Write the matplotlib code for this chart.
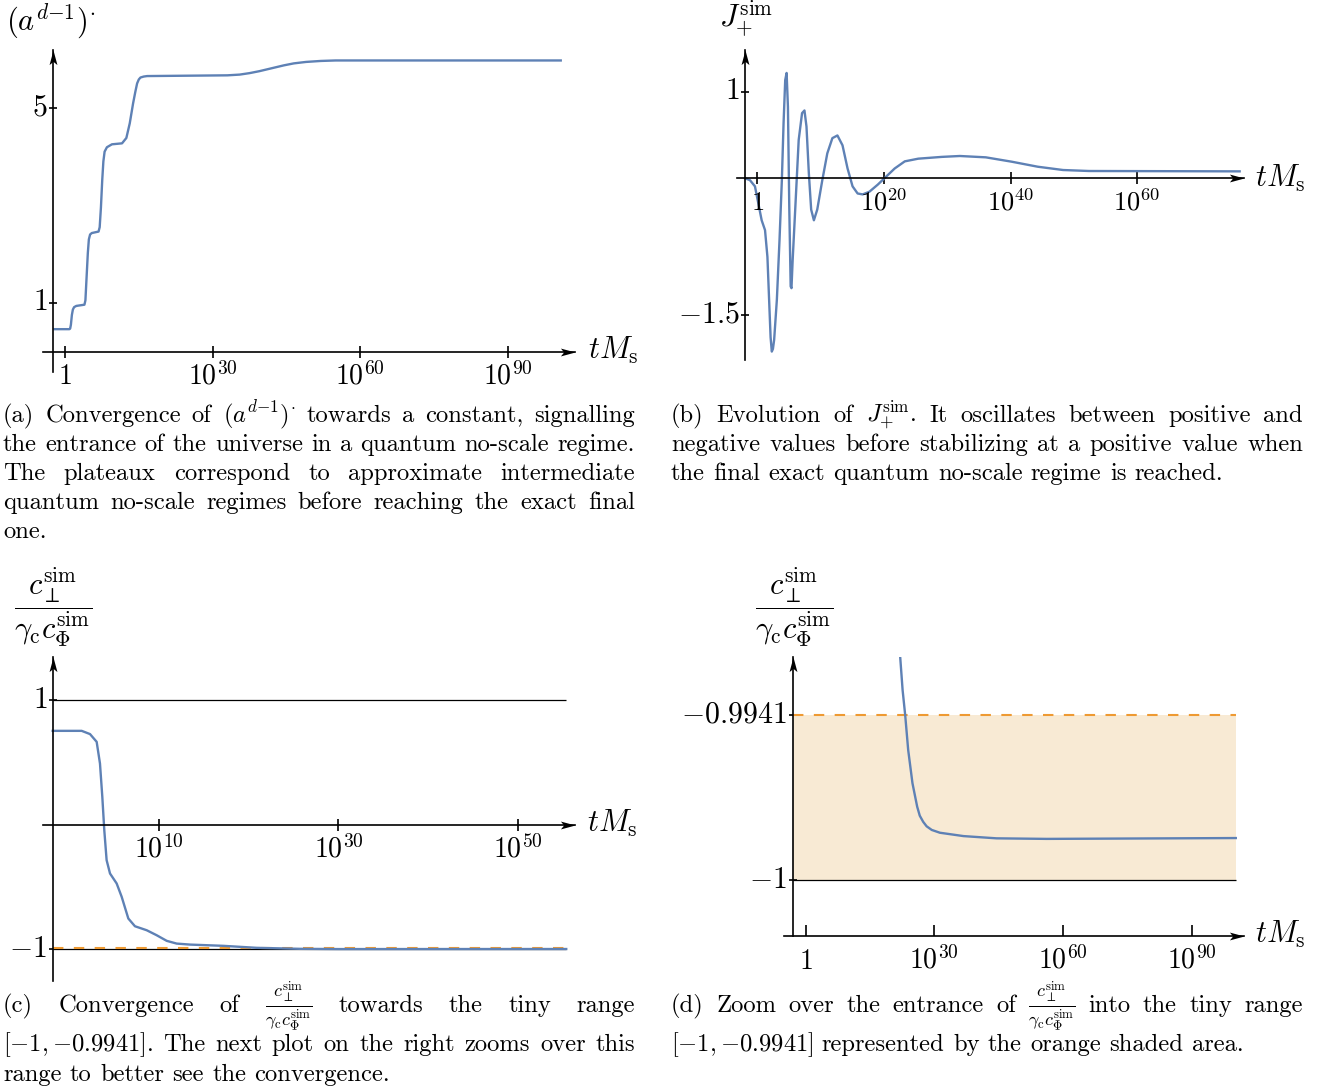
import matplotlib
matplotlib.use("Agg")
import matplotlib.pyplot as plt
from matplotlib.path import Path

plt.rcParams['mathtext.fontset'] = 'cm'
plt.rcParams['font.family'] = 'cmr10'
plt.rcParams['axes.formatter.use_mathtext'] = True

W, H = 1320, 1090
BLUE = '#5E81B5'
ORANGE = '#EE9A33'
SHADE = '#F8EAD4'

# (a) (a^{d-1})^dot against log10(t M_s)
a_logt = [-2.39, 0.89, 1.05, 1.20, 1.40, 1.60, 1.85, 2.30, 3.95, 4.15, 4.35, 4.64, 4.85, 5.10, 5.45, 6.82,
          7.05, 7.30, 7.57, 7.80, 8.05, 8.52, 9.54, 11.59, 12.47, 13.16, 13.84, 14.30, 14.66, 15.00,
          15.34, 16.00, 16.70, 33.0, 35.5, 37.5, 39.5, 42.0, 44.5, 46.5, 49.0, 52.0, 55.0, 101.0]
a_val = [0.458, 0.458, 0.47, 0.55, 0.75, 0.86, 0.91, 0.935, 0.96, 1.05, 1.45, 2.02, 2.30, 2.40, 2.43, 2.46,
         2.55, 2.95, 3.52, 3.90, 4.10, 4.19, 4.25, 4.27, 4.38, 4.68, 5.09, 5.33, 5.50, 5.58,
         5.62, 5.64, 5.65, 5.665, 5.68, 5.71, 5.75, 5.81, 5.87, 5.91, 5.94, 5.96, 5.97, 5.97]
a_xticks = [0, 30, 60, 90]
a_xlabels = ['$1$', '$10^{30}$', '$10^{60}$', '$10^{90}$']
a_yticks = [1, 5]
a_ylabels = ['$1$', '$5$']

# (b) J_+^sim
b_logt = [-1.94, -1.17, -0.37, 0.16, 0.69, 1.22, 1.60, 1.91, 2.10, 2.29, 2.47, 2.66, 3.09, 3.51, 3.88,
          4.15, 4.41, 4.63, 4.84, 5.05, 5.27, 5.40, 5.59, 6.01, 6.54, 7.07, 7.45, 7.77, 8.14, 8.51,
          8.94, 9.47, 10.27, 11.06, 11.86, 12.66, 13.46, 14.26, 15.05, 15.85, 16.65, 17.71, 19.04,
          20.37, 21.70, 23.30, 25.43, 29.15, 32.0, 36.1, 40.2, 44.3, 48.3, 52.4, 76.2]
b_val = [0.03, 0.01, -0.06, -0.25, -0.44, -0.55, -0.85, -1.41, -1.75, -1.91, -1.88, -1.78, -1.33, -0.66, 0.01,
         0.65, 1.13, 1.21, 0.83, -0.29, -1.18, -1.20, -0.88, -0.29, 0.46, 0.76, 0.79, 0.61, 0.09, -0.32,
         -0.44, -0.32, 0.01, 0.31, 0.48, 0.51, 0.40, 0.14, -0.06, -0.14, -0.15, -0.12, -0.04,
         0.05, 0.14, 0.22, 0.25, 0.27, 0.28, 0.265, 0.216, 0.16, 0.123, 0.112, 0.108]
b_xticks = [0, 20, 40, 60]
b_xlabels = ['$1$', '$10^{20}$', '$10^{40}$', '$10^{60}$']
b_yticks = [1, -1.5]
b_ylabels = ['$1$', '$-1.5$']

# (c) c_perp / (gamma_c c_Phi)
c_logt = [-1.85, 1.38, 2.31, 3.05, 3.42, 3.68, 3.90, 4.16, 4.54, 5.28, 5.84, 6.58, 7.32, 8.63, 9.74,
          10.86, 11.97, 13.46, 17.17, 20.89, 25.72, 30.0, 55.4]
c_val = [0.751, 0.751, 0.725, 0.663, 0.489, 0.222, -0.045, -0.286, -0.393, -0.473, -0.580, -0.754,
         -0.816, -0.848, -0.888, -0.933, -0.955, -0.963, -0.973, -0.989, -0.997, -0.999, -0.9985]
c_refs = [1, -1]
c_xticks = [10, 30, 50]
c_xlabels = ['$10^{10}$', '$10^{30}$', '$10^{50}$']
c_yticks = [1, -1]
c_ylabels = ['$1$', '$-1$']

# (d) zoom on [-1, -0.9941]
d_logt = [21.8, 22.0, 22.6, 23.2, 23.9, 24.9, 25.5, 26.0, 26.6, 27.4, 28.2, 29.4, 31.3, 36.8, 44.5, 56.2, 100.3]
d_val = [-0.9912, -0.99195, -0.99321, -0.99410, -0.99535, -0.99654, -0.99700, -0.99738, -0.99770,
         -0.99792, -0.99808, -0.99821, -0.99831, -0.99843, -0.99851, -0.99853, -0.99850]
band = [-1, -0.9941]
d_xticks = [0, 30, 60, 90]
d_xlabels = ['$1$', '$10^{30}$', '$10^{60}$', '$10^{90}$']
d_yticks = [-0.9941, -1]
d_ylabels = ['$-0.9941$', '$-1$']

FRAC = r'$\dfrac{c_{\perp}^{\mathrm{sim}}}{\gamma_{\mathrm{c}}c_{\Phi}^{\mathrm{sim}}}$'
FRAC_SMALL = r'$\frac{c_{\perp}^{\mathrm{sim}}}{\gamma_{\mathrm{c}}c_{\Phi}^{\mathrm{sim}}}$'

cap_a = [r'(a) Convergence of $(a^{d{-}1})^{\cdot}$ towards a constant, signalling',
         'the entrance of the universe in a quantum no-scale regime.',
         'The plateaux correspond to approximate intermediate',
         'quantum no-scale regimes before reaching the exact final',
         'one.']
cap_b = [r'(b) Evolution of $J_{+}^{\mathrm{sim}}$. It oscillates between positive and',
         'negative values before stabilizing at a positive value when',
         'the final exact quantum no-scale regime is reached.']
cap_c = ['(c) Convergence of ' + FRAC_SMALL + ' towards the tiny range',
         r'$[-1,{-}0.9941]$. The next plot on the right zooms over this',
         'range to better see the convergence.']
cap_d = ['(d) Zoom over the entrance of ' + FRAC_SMALL + ' into the tiny range',
         r'$[-1,{-}0.9941]$ represented by the orange shaded area.']

fig = plt.figure(figsize=(W / 100, H / 100), dpi=100)

ARROW_R = Path([(0, 0), (-1, 0.27), (-0.78, 0), (-1, -0.27), (0, 0)],
               [Path.MOVETO, Path.LINETO, Path.LINETO, Path.LINETO, Path.CLOSEPOLY])
ARROW_U = Path([(0, 0), (0.27, -1), (0, -0.78), (-0.27, -1), (0, 0)],
               [Path.MOVETO, Path.LINETO, Path.LINETO, Path.LINETO, Path.CLOSEPOLY])


def make_axes(box, xref, yref):
    # box in pixels (left, top, right, bottom); refs are (pixel, value, pixels per unit)
    l, t, r, b = box
    ax = fig.add_axes([l / W, 1 - b / H, (r - l) / W, (b - t) / H])
    xp, xv, xs = xref
    yp, yv, ys = yref
    ax.set_xlim(xv + (l - xp) / xs, xv + (r - xp) / xs)
    ax.set_ylim(yv - (b - yp) / ys, yv + (yp - t) / ys)
    ax.patch.set_alpha(0)
    return ax


def dress(ax, yaxis_at, xaxis_at, xticks, xlabels, yticks, ylabels, xfs=20, yfs=21.5, xdir='inout'):
    for side in ['top', 'right']:
        ax.spines[side].set_visible(False)
    ax.spines['left'].set_position(('data', yaxis_at))
    ax.spines['bottom'].set_position(('data', xaxis_at))
    for side in ['left', 'bottom']:
        ax.spines[side].set_linewidth(1.2)
    ax.set_xticks(xticks)
    ax.set_yticks(yticks)
    ax.tick_params(axis='x', direction=xdir, length=8, width=1.2, labelbottom=False)
    ax.tick_params(axis='y', direction='inout', length=6, width=1.2, labelleft=False)
    ax.plot([ax.get_xlim()[1]], [xaxis_at], marker=ARROW_R, ms=21, color='k', mew=0, clip_on=False)
    ax.plot([yaxis_at], [ax.get_ylim()[1]], marker=ARROW_U, ms=21, color='k', mew=0, clip_on=False)
    for v, s in zip(xticks, xlabels):
        ax.annotate(s, (v, xaxis_at), xytext=(0, -23.5), textcoords='offset points',
                    ha='center', va='baseline', fontsize=xfs, annotation_clip=False)
    for v, s in zip(yticks, ylabels):
        ax.annotate(s, (yaxis_at, v), xytext=(-4, 0), textcoords='offset points',
                    ha='right', va='center', fontsize=yfs, annotation_clip=False)


def ftext(x, y, s, **kw):
    return fig.text(x / W, 1 - y / H, s, **kw)


def caption(lines, x0, x1, ys, fs=17.7):
    r = fig.canvas.get_renderer()
    em = fs * 100 / 72
    for i, (line, y) in enumerate(zip(lines, ys)):
        words = line.split(' ')
        texts = [ftext(0, y, w, fontsize=fs * 1.06 if 'frac' in w else fs, va='baseline') for w in words]
        widths = [t.get_window_extent(r).width for t in texts]
        if i == len(lines) - 1:
            gap = 0.34 * em
        else:
            gap = (x1 - x0 - sum(widths)) / (len(words) - 1)
        x = x0
        for t, w in zip(texts, widths):
            t.set_x(x / W)
            x += w + gap


# panel (a)
ax = make_axes((43, 50, 575, 372), (65, 0, 4.92), (351.5, 0, 48.75))
ax.plot(a_logt, a_val, color=BLUE, lw=1.7, solid_capstyle='butt')
dress(ax, a_logt[0], 0, a_xticks, a_xlabels, a_yticks, a_ylabels)
ftext(6, 30, r'$(a^{d{-}1})^{\cdot}$', fontsize=22, va='baseline')
ftext(588, 359, r'$tM_{\mathrm{s}}$', fontsize=22, va='baseline')

# panel (b)
ax = make_axes((737, 50, 1244, 360), (757.3, 0, 6.33), (91.7, 1, 89.3))
ax.plot(b_logt, b_val, color=BLUE, lw=1.7)
dress(ax, b_logt[0], 0.037, b_xticks, b_xlabels, b_yticks, b_ylabels, xfs=19)
ftext(719, 27, r'$J_{+}^{\mathrm{sim}}$', fontsize=22, va='baseline')
ftext(1255, 187, r'$tM_{\mathrm{s}}$', fontsize=22, va='baseline')

# panel (c)
ax = make_axes((43, 657, 575, 981), (159, 10, 8.97), (824.5, 0, 124.7))
ax.hlines(c_refs, c_logt[0], c_logt[-1], color='k', lw=0.9)
ax.hlines(band[1], c_logt[0], c_logt[-1], color=ORANGE, lw=1.5, linestyles=(0, (5, 5)))
ax.plot(c_logt, c_val, color=BLUE, lw=1.7)
dress(ax, c_logt[0], 0, c_xticks, c_xlabels, c_yticks, c_ylabels)
ftext(53, 608, FRAC, fontsize=22, ha='center', va='center')
ftext(587, 832, r'$tM_{\mathrm{s}}$', fontsize=22, va='baseline')

# panel (d)
ax = make_axes((784, 656.6, 1244, 936.3), (805.7, 0, 4.288), (880, -1, 27966))
d_left = -3.03
ax.fill_between([d_left, d_logt[-1]], band[0], band[1], color=SHADE, lw=0)
ax.hlines(band[0], d_left, d_logt[-1], color='k', lw=0.9)
ax.hlines(band[1], d_left, d_logt[-1], color=ORANGE, lw=1.5, linestyles=(0, (5, 5)))
ax.plot(d_logt, d_val, color=BLUE, lw=1.7)
dress(ax, d_left, ax.get_ylim()[0], d_xticks, d_xlabels, d_yticks, d_ylabels, xdir='in')
ftext(794, 608, FRAC, fontsize=22, ha='center', va='center')
ftext(1255, 943, r'$tM_{\mathrm{s}}$', fontsize=22, va='baseline')

# captions
caption(cap_a, 3, 635, [422, 451, 480, 509, 538])
caption(cap_b, 671, 1303, [422, 451, 480])
caption(cap_c, 3, 635, [1012, 1051, 1081])
caption(cap_d, 671, 1303, [1012, 1051])

fig.savefig('out.png', dpi=100)
